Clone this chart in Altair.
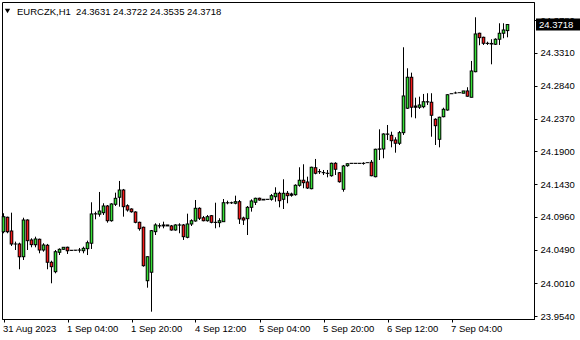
import altair as alt
import pandas as pd

# ---- data ----
opens = [24.0749, 24.0955, 24.0759, 24.0573, 24.0573, 24.0390, 24.0916, 24.0630, 24.0563, 24.0640,
         24.0486, 24.0554, 24.0310, 24.0175, 24.0453, 24.0496, 24.0525, 24.0480, 24.0482, 24.0484,
         24.0476, 24.0505, 24.0583, 24.1003, 24.0999, 24.1021, 24.1117, 24.0906, 24.1141, 24.1242,
         24.1346, 24.1121, 24.1074, 24.1031, 24.0883, 24.0812, 24.0046, 24.0167, 24.0749, 24.0835,
         24.0831, 24.0845, 24.0831, 24.0773, 24.0845, 24.0845, 24.0668, 24.0859, 24.0902, 24.1084,
         24.0949, 24.0906, 24.0978, 24.0883, 24.0878, 24.0892, 24.1164, 24.1162, 24.1156, 24.1179,
         24.0945, 24.0935, 24.1098, 24.1170, 24.1227, 24.1203, 24.1211, 24.1213, 24.1250, 24.1299,
         24.1213, 24.1299, 24.1289, 24.1279, 24.1414, 24.1486, 24.1461, 24.1365, 24.1666, 24.1610,
         24.1596, 24.1586, 24.1551, 24.1729, 24.1594, 24.1356, 24.1695, 24.1727, 24.1729, 24.1727,
         24.1729, 24.1738, 24.1744, 24.1537, 24.1930, 24.1934, 24.2149, 24.2130, 24.2063, 24.2016,
         24.2168, 24.2518, 24.2962, 24.2550, 24.2532, 24.2540, 24.2612, 24.2604, 24.2360, 24.2073,
         24.2397, 24.2493, 24.2726, 24.2737, 24.2741, 24.2733, 24.2766, 24.2675, 24.3042, 24.3593,
         24.3535, 24.3449, 24.3447, 24.3435, 24.3507, 24.3593, 24.3631]
highs = [24.1013, 24.0964, 24.1021, 24.0606, 24.0591, 24.0949, 24.0926, 24.0654, 24.0677, 24.0649,
         24.0583, 24.0573, 24.0333, 24.0486, 24.0510, 24.0529, 24.0534, 24.0486, 24.0486, 24.0515,
         24.0534, 24.0620, 24.1170, 24.1036, 24.1318, 24.1156, 24.1131, 24.1156, 24.1308, 24.1476,
         24.1361, 24.1141, 24.1084, 24.1041, 24.0892, 24.0821, 24.0395, 24.0773, 24.0869, 24.0869,
         24.0892, 24.0845, 24.0845, 24.0855, 24.0869, 24.0859, 24.1007, 24.0926, 24.1203, 24.1098,
         24.0974, 24.0988, 24.0988, 24.1164, 24.0941, 24.1217, 24.1193, 24.1179, 24.1265, 24.1203,
         24.0964, 24.1117, 24.1213, 24.1236, 24.1236, 24.1213, 24.1213, 24.1289, 24.1385, 24.1322,
         24.1500, 24.1332, 24.1308, 24.1428, 24.1672, 24.1715, 24.1537, 24.1680, 24.1791, 24.1647,
         24.1633, 24.1633, 24.1738, 24.1744, 24.1604, 24.1705, 24.1729, 24.1729, 24.1729, 24.1729,
         24.1744, 24.1740, 24.1776, 24.1938, 24.2216, 24.2159, 24.2278, 24.2182, 24.2102, 24.2192,
         24.3392, 24.3091, 24.3028, 24.2670, 24.2684, 24.2723, 24.2733, 24.2733, 24.2374, 24.2397,
         24.2526, 24.2718, 24.2727, 24.2756, 24.2742, 24.2766, 24.2819, 24.3196, 24.3822, 24.3601,
         24.3544, 24.3472, 24.3507, 24.3521, 24.3736, 24.3736, 24.3722]
lows = [24.0726, 24.0726, 24.0544, 24.0486, 24.0210, 24.0343, 24.0486, 24.0525, 24.0525, 24.0439,
        24.0462, 24.0210, 24.0009, 24.0152, 24.0414, 24.0490, 24.0429, 24.0476, 24.0478, 24.0448,
        24.0439, 24.0414, 24.0501, 24.0926, 24.0964, 24.0988, 24.0878, 24.0892, 24.1117, 24.1107,
        24.0964, 24.1036, 24.1021, 24.0869, 24.0763, 24.0247, 23.9946, 23.9602, 24.0701, 24.0797,
        24.0797, 24.0831, 24.0763, 24.0763, 24.0726, 24.0630, 24.0654, 24.0830, 24.0892, 24.0916,
        24.0897, 24.0892, 24.0869, 24.0797, 24.0812, 24.0890, 24.1141, 24.1146, 24.1141, 24.0859,
        24.0845, 24.0701, 24.1036, 24.1131, 24.1193, 24.1203, 24.1211, 24.1193, 24.1179, 24.1098,
        24.1074, 24.1156, 24.1250, 24.1265, 24.1394, 24.1371, 24.1361, 24.1356, 24.1571, 24.1576,
        24.1561, 24.1528, 24.1537, 24.1561, 24.1451, 24.1322, 24.1680, 24.1727, 24.1727, 24.1727,
        24.1709, 24.1736, 24.1543, 24.1528, 24.1776, 24.1801, 24.2063, 24.1958, 24.1881, 24.1991,
        24.2135, 24.2508, 24.2388, 24.2374, 24.2508, 24.2518, 24.2565, 24.2110, 24.1991, 24.1958,
        24.2388, 24.2483, 24.2726, 24.2727, 24.2740, 24.2733, 24.2684, 24.2675, 24.3034, 24.3421,
        24.3425, 24.3425, 24.3148, 24.3425, 24.3425, 24.3521, 24.3535]
closes = [24.0964, 24.0749, 24.0573, 24.0571, 24.0390, 24.0916, 24.0620, 24.0563, 24.0644, 24.0486,
          24.0558, 24.0310, 24.0247, 24.0462, 24.0496, 24.0525, 24.0476, 24.0482, 24.0484, 24.0486,
          24.0510, 24.0591, 24.1003, 24.1006, 24.1045, 24.1117, 24.0906, 24.1146, 24.1227, 24.1346,
          24.1107, 24.1060, 24.1036, 24.0883, 24.0792, 24.0261, 24.0390, 24.0763, 24.0845, 24.0831,
          24.0845, 24.0831, 24.0773, 24.0845, 24.0843, 24.0677, 24.0859, 24.0906, 24.1084, 24.0941,
          24.0906, 24.0964, 24.0883, 24.0881, 24.0906, 24.1164, 24.1162, 24.1164, 24.1179, 24.0931,
          24.0916, 24.1098, 24.1189, 24.1227, 24.1203, 24.1213, 24.1213, 24.1265, 24.1299, 24.1193,
          24.1299, 24.1265, 24.1270, 24.1414, 24.1486, 24.1451, 24.1375, 24.1672, 24.1586, 24.1608,
          24.1594, 24.1584, 24.1729, 24.1643, 24.1465, 24.1690, 24.1723, 24.1729, 24.1727, 24.1729,
          24.1727, 24.1738, 24.1551, 24.1930, 24.1935, 24.2149, 24.2145, 24.2053, 24.2016, 24.2168,
          24.2694, 24.2962, 24.2532, 24.2532, 24.2565, 24.2612, 24.2608, 24.2417, 24.2268, 24.2389,
          24.2503, 24.2712, 24.2727, 24.2737, 24.2741, 24.2766, 24.2690, 24.3052, 24.3583, 24.3530,
          24.3449, 24.3447, 24.3439, 24.3507, 24.3593, 24.3640, 24.3718]

tick_bars = [0, 16, 32, 48, 64, 80, 96, 112]
tick_labels = ["31 Aug 2023", "1 Sep 04:00", "1 Sep 20:00", "4 Sep 12:00",
               "5 Sep 04:00", "5 Sep 20:00", "6 Sep 12:00", "7 Sep 04:00"]
price_ticks = [23.9540, 24.0010, 24.0490, 24.0960, 24.1430,
               24.1900, 24.2370, 24.2840, 24.3310, 24.3780]
symbol = "EURCZK,H1"
last_ohlc = ["24.3631", "24.3722", "24.3535", "24.3718"]
last_price = 24.3718

UP = "#38e038"
DOWN = "#f41c1c"
FONT = "Liberation Sans"
FS = 9.5

df = pd.DataFrame({"bar": list(range(len(opens))), "open": opens, "high": highs,
                   "low": lows, "close": closes})
df["dir"] = ["up" if c >= o else "down" for o, c in zip(opens, closes)]
df["lo"] = [min(o, c) for o, c in zip(opens, closes)]
df["hi"] = [max(o, c) for o, c in zip(opens, closes)]

lbl_js = "[" + ",".join("'%s'" % s for s in tick_labels) + "]"
x_axis = alt.Axis(values=tick_bars, labelExpr=lbl_js + "[round(datum.value/16)]",
                  title=None, grid=False, tickSize=3, labelPadding=1, labelAlign="left",
                  labelOffset=-1, labelFlush=False, labelOverlap=False, labelFont=FONT,
                  labelFontSize=FS, labelColor="black", domainColor="black", tickColor="black")
y_axis = alt.Axis(values=price_ticks, format=".4f", orient="right", title=None, grid=False,
                  tickSize=3, labelPadding=3, labelOverlap=False, labelFlush=False,
                  labelFont=FONT, labelFontSize=FS, labelColor="black",
                  domainColor="black", tickColor="black")
x_scale = alt.Scale(domain=[-0.375, 132.625], nice=False, zero=False, padding=0)
y_scale = alt.Scale(domain=[23.9497, 24.4041], nice=False, zero=False, padding=0)

X = alt.X("bar:Q", scale=x_scale, axis=x_axis)
base = alt.Chart(df)
wicks = base.mark_rule(color="black", strokeWidth=1).encode(
    x=X, y=alt.Y("low:Q", scale=y_scale, axis=y_axis), y2="high:Q")
outline = base.mark_bar(size=3.6, color="black", yOffset=0.5, y2Offset=-0.5).encode(
    x=X, y=alt.Y("lo:Q", scale=y_scale, axis=y_axis), y2="hi:Q")
fill = base.transform_filter("datum.hi - datum.lo > 0.0022").mark_bar(
    size=1.6, yOffset=-0.5, y2Offset=0.5).encode(
    x=X, y=alt.Y("lo:Q", scale=y_scale, axis=y_axis), y2="hi:Q",
    color=alt.Color("dir:N", scale=alt.Scale(domain=["up", "down"], range=[UP, DOWN]), legend=None),
)

title_df = pd.DataFrame({"t": [symbol + "\u00a0 " + " ".join(last_ohlc)]})
title = alt.Chart(title_df).mark_text(align="left", baseline="alphabetic", font=FONT,
                                      fontSize=FS, color="black").encode(
    x=alt.value(15), y=alt.value(13), text="t:N")
tri = alt.Chart(title_df).mark_point(shape="triangle-down", filled=True, color="black",
                                     opacity=1, size=28).encode(
    x=alt.value(5.5), y=alt.value(9))

price_df = pd.DataFrame({"p": [last_price], "label": ["%.4f" % last_price]})
pbox = alt.Chart(price_df).mark_rect(color="black", yOffset=-6, y2Offset=6).encode(
    x=alt.value(534), x2=alt.value(578),
    y=alt.Y("p:Q", scale=y_scale, axis=y_axis), y2="p:Q")
ptxt = alt.Chart(price_df).mark_text(align="left", baseline="middle", color="white",
                                     font=FONT, fontSize=FS).encode(
    x=alt.value(537), y=alt.Y("p:Q", scale=y_scale, axis=y_axis), text="label:N")

chart = alt.layer(wicks, outline, fill, title, tri, pbox, ptxt).properties(
    width=532, height=317,
    padding={"left": 2, "top": 2, "right": 46, "bottom": 21},
    autosize=alt.AutoSizeParams(type="none"),
    background="white",
).configure_view(stroke="black", strokeWidth=1)

chart.save("out.html", embed_options={"renderer": "svg", "actions": False})
